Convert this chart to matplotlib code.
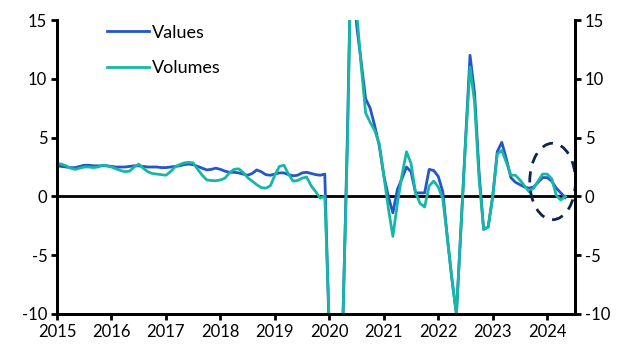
import numpy as np
import matplotlib
matplotlib.use("Agg")
import matplotlib.pyplot as plt
from matplotlib.patches import Ellipse

plt.rcParams['font.family'] = ['Lato', 'DejaVu Sans']
plt.rcParams['axes.unicode_minus'] = False

# monthly series, Jan 2015 - May 2024 (% change)
values = [
    # 2015
    2.6, 2.55, 2.5, 2.45, 2.45, 2.55, 2.65, 2.65, 2.6, 2.6, 2.6, 2.6,
    # 2016
    2.55, 2.5, 2.5, 2.5, 2.55, 2.6, 2.6, 2.55, 2.5, 2.5, 2.5, 2.45,
    # 2017
    2.45, 2.5, 2.55, 2.6, 2.7, 2.75, 2.7, 2.55, 2.4, 2.25, 2.3, 2.4,
    # 2018
    2.3, 2.15, 2.05, 2.05, 2.0, 1.9, 1.8, 1.95, 2.25, 2.1, 1.85, 1.8,
    # 2019
    1.9, 2.0, 2.0, 1.85, 1.75, 1.8, 2.0, 2.05, 1.95, 1.85, 1.8, 1.9,
    # 2020
    -12, -25, -25, -10.5, 5.5, 25, 14.6, 11.5, 8.3, 7.5, 6.0, 4.3,
    # 2021
    1.8, 0.0, -1.4, 0.6, 1.5, 2.5, 2.1, 0.3, 0.3, 0.3, 2.3, 2.2,
    # 2022
    1.7, 0.4, -3.5, -7.0, -10.0, -2.7, 4.7, 12.0, 8.8, 2.0, -2.8, -2.6,
    # 2023
    0.0, 3.8, 4.6, 3.2, 1.6, 1.2, 1.0, 0.8, 0.7, 0.8, 1.2, 1.6,
    # 2024
    1.6, 1.3, 0.7, 0.3, -0.1,
]
volumes = [
    # 2015
    2.8, 2.75, 2.6, 2.4, 2.3, 2.4, 2.5, 2.5, 2.45, 2.5, 2.65, 2.6,
    # 2016
    2.5, 2.35, 2.2, 2.1, 2.15, 2.5, 2.75, 2.4, 2.1, 1.95, 1.9, 1.85,
    # 2017
    1.8, 2.1, 2.5, 2.7, 2.85, 2.9, 2.85, 2.3, 1.8, 1.4, 1.35, 1.33,
    # 2018
    1.4, 1.55, 2.0, 2.3, 2.35, 2.05, 1.6, 1.3, 1.0, 0.75, 0.7, 0.9,
    # 2019
    1.8, 2.55, 2.65, 1.9, 1.3, 1.35, 1.55, 1.65, 0.9, 0.4, -0.15, 0.05,
    # 2020
    -11, -25, -25, -10.3, 4.5, 25, 15.8, 11.2, 7.1, 6.3, 5.6, 4.5,
    # 2021
    1.8, -1.0, -3.4, -0.6, 1.8, 3.8, 2.8, 0.3, -0.6, -0.9, 0.9, 1.3,
    # 2022
    0.8, -0.2, -3.5, -7.0, -10.0, -2.7, 4.5, 11.0, 8.0, 1.5, -2.8, -2.6,
    # 2023
    0.0, 3.6, 3.9, 2.9, 1.8, 1.8, 1.4, 0.9, 0.4, 0.7, 1.3, 1.9,
    # 2024
    1.9, 1.5, 0.1, -0.3, 0.0,
]
years = [2015 + m / 12 for m in range(len(values))]
year_ticks = list(range(2015, 2025))
y_ticks = [-10, -5, 0, 5, 10, 15]

blue = "#2455C9"
teal = "#17B7A6"

fig = plt.figure(figsize=(6.27, 3.53), dpi=100)
ax = fig.add_axes([0.0909, 0.1105, 0.8261, 0.8328])

ax.plot(years, values, color=blue, lw=2.0, label="Values", zorder=3)
ax.plot(years, volumes, color=teal, lw=2.0, label="Volumes", zorder=4)
ax.axhline(0, color="black", lw=2, zorder=2)

# dashed circle round the latest months
ell = Ellipse((2024.1, 1.27), 0.84, 6.5, fill=False, ls=(0, (4, 3)),
              lw=2, color="#0E2550", clip_on=False, zorder=5)
ax.add_patch(ell)

ax.set_xlim(2015, 2024.51)
ax.set_ylim(-10, 15)
ax.set_xticks(year_ticks)
ax.set_yticks(y_ticks)

ax2 = ax.twinx()
ax2.set_ylim(-10, 15)
ax2.set_yticks(y_ticks)

for a in (ax, ax2):
    a.spines["top"].set_visible(False)
    for s in ("left", "right", "bottom"):
        a.spines[s].set_linewidth(2)
    a.tick_params(direction="out", length=4, width=2, labelsize=12, pad=3)

ax.legend(loc="upper left", bbox_to_anchor=(0.066, 1.04), frameon=False,
          fontsize=13, handlelength=2.3, handletextpad=0.15, labelspacing=1.1)

plt.savefig("out.png", dpi=100)
